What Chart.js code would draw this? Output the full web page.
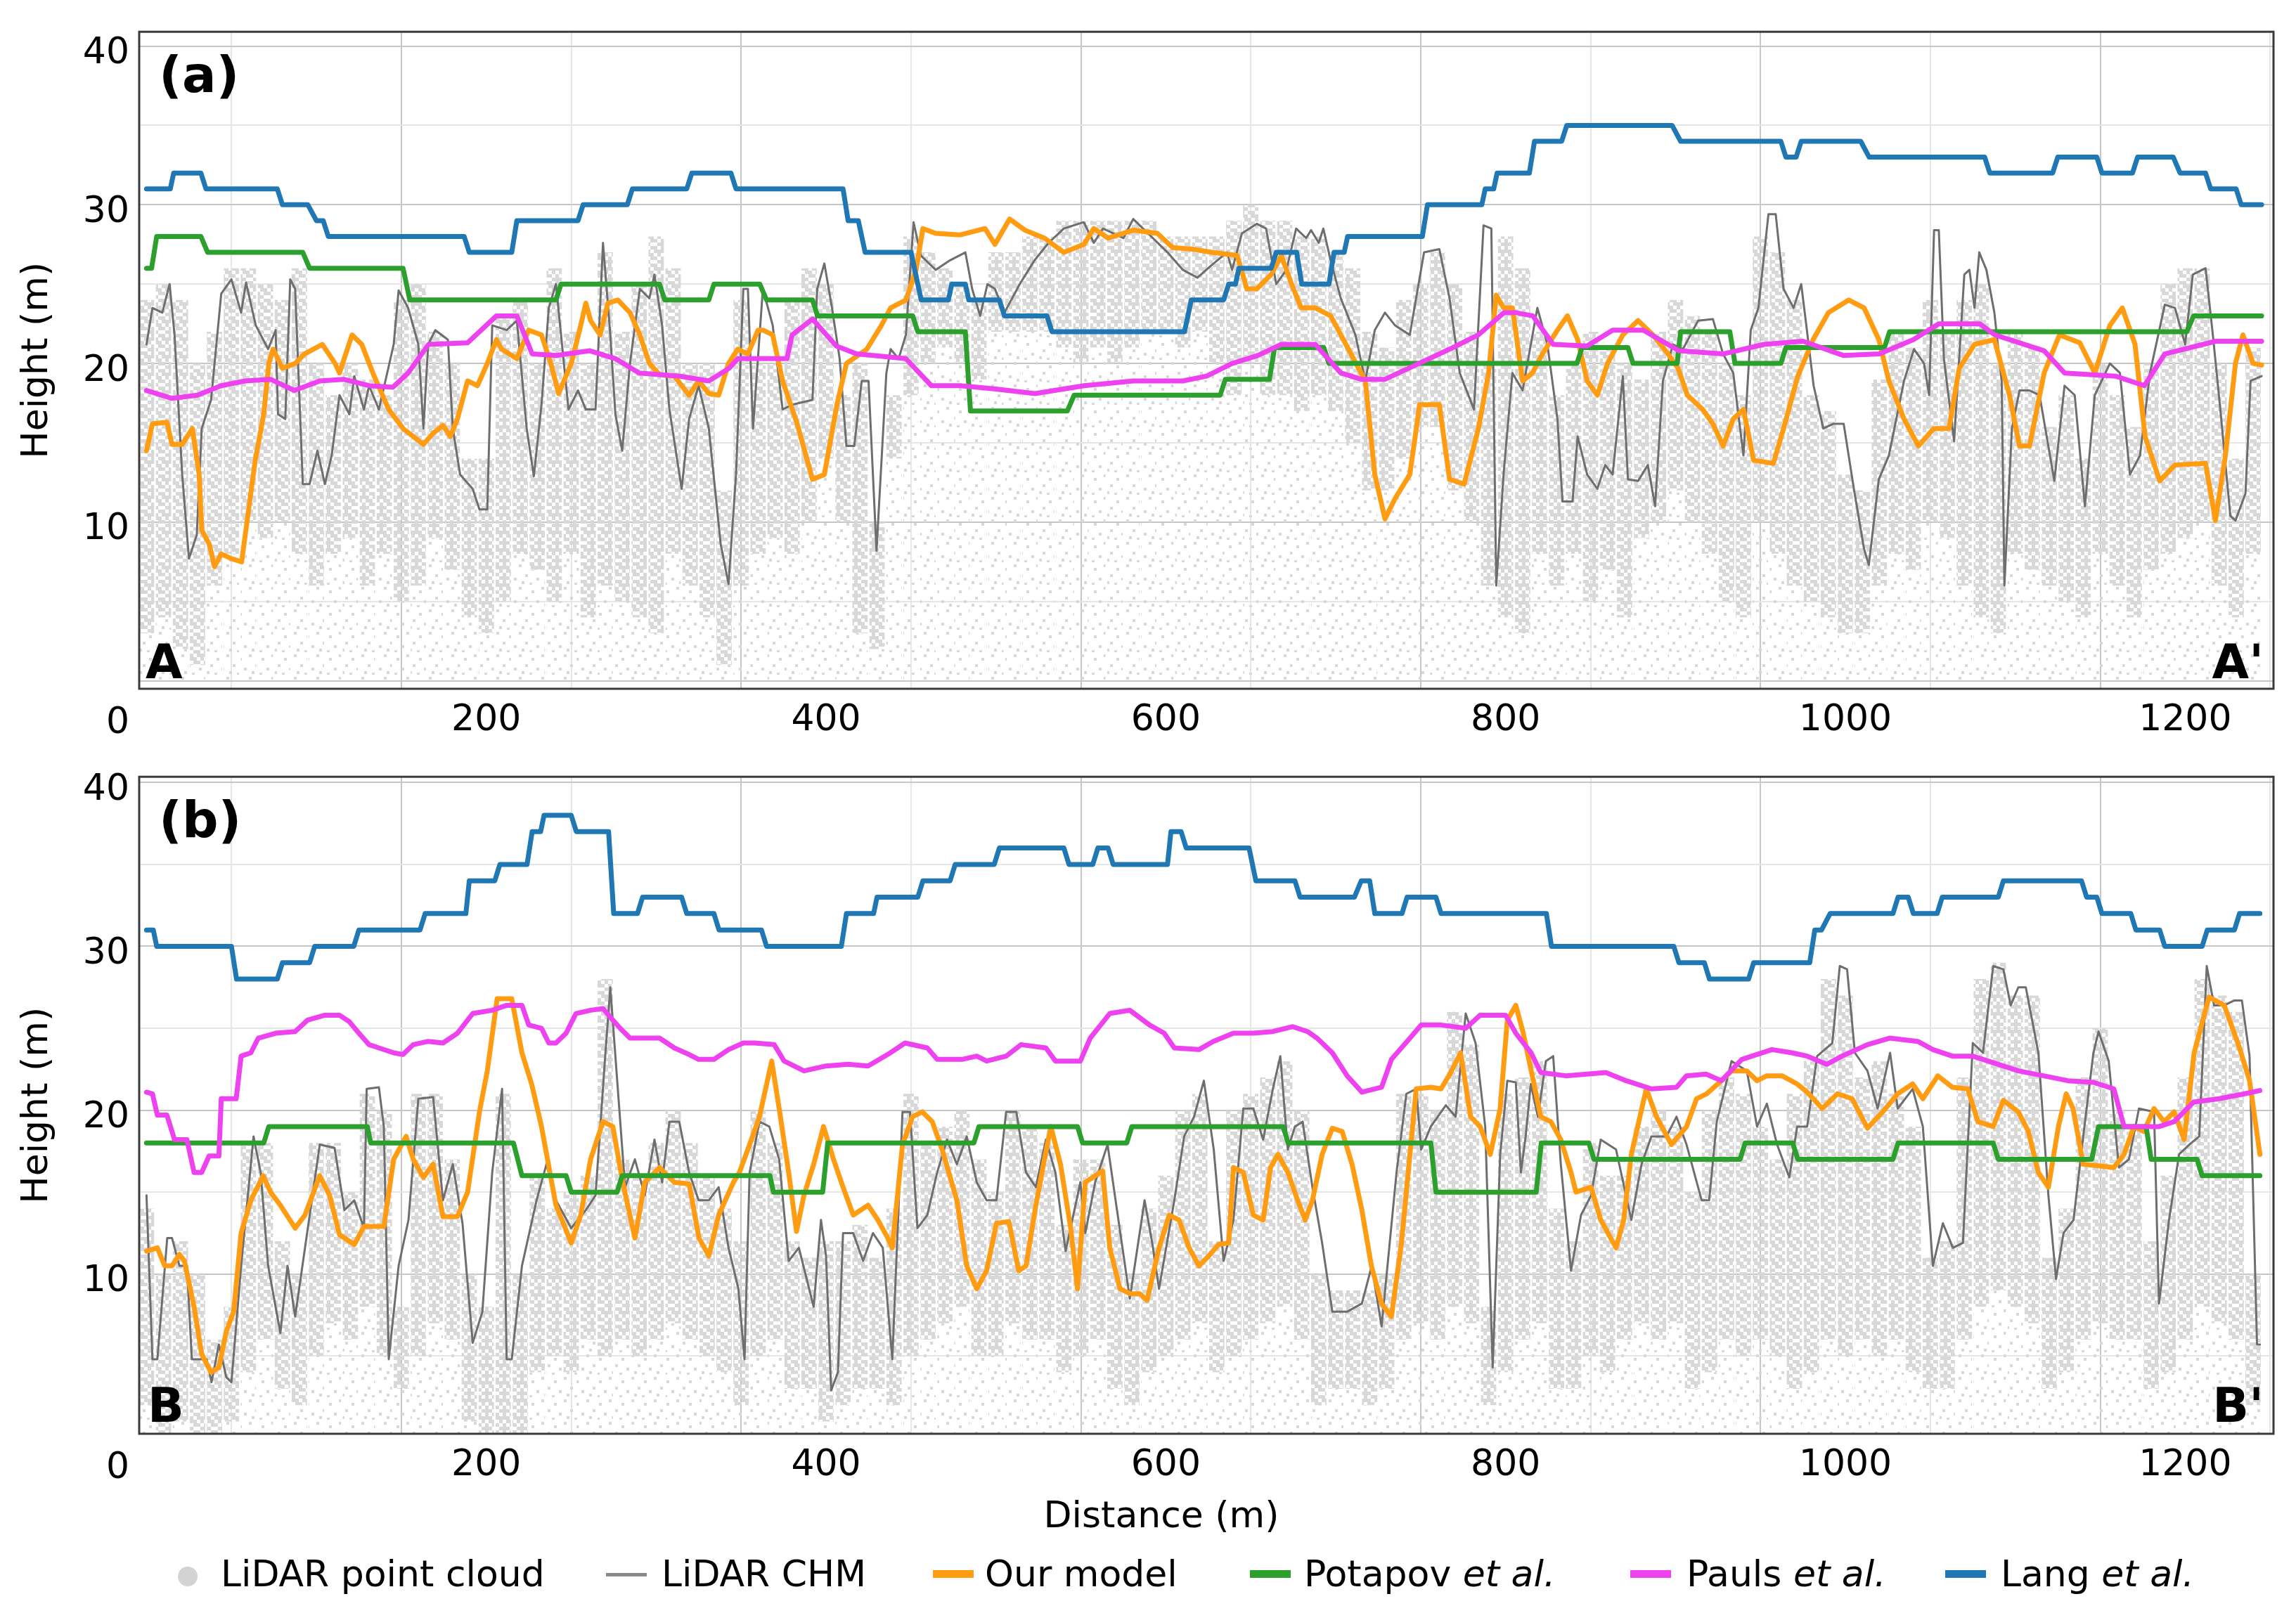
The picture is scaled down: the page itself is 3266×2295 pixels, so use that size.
<!DOCTYPE html>
<html>
<head>
<meta charset="utf-8">
<script src="https://cdn.jsdelivr.net/npm/chart.js@4.4.1/dist/chart.umd.min.js"></script>
<style>
  html, body { margin: 0; padding: 0; background: #fff; }
  #page { position: relative; width: 3266px; height: 2295px; font-family: 'DejaVu Sans', sans-serif; color: #000; overflow: hidden; }
  canvas { position: absolute; left: 0; }
  .lbl { position: absolute; white-space: nowrap; line-height: 1; font-size: 52px; z-index: 2; }
  .tag { position: absolute; white-space: nowrap; line-height: 1; font-weight: bold; z-index: 2; }
  .sw { position: absolute; z-index: 2; }
</style>
</head>
<body>
<div id="page">
  <canvas id="chartA" width="3266" height="1070" style="top:0px"></canvas>
  <canvas id="chartB" width="3266" height="1070" style="top:1060px"></canvas>

  <div class="tag" style="left:226px;top:70px;font-size:72px">(a)</div>
  <div class="tag" style="left:207px;top:908px;font-size:68px">A</div>
  <div class="tag" style="right:46px;top:908px;font-size:68px">A'</div>
  <div class="tag" style="left:226px;top:1130px;font-size:72px">(b)</div>
  <div class="tag" style="left:210px;top:1966px;font-size:68px">B</div>
  <div class="tag" style="right:46px;top:1966px;font-size:68px">B'</div>

  <div class="lbl" style="right:3082px;top:999px">0</div>
  <div class="lbl" style="right:3082px;top:2059px">0</div>
  <div class="lbl" style="left:1652px;top:2129px;transform:translateX(-50%)">Distance (m)</div>

  <div class="sw" style="left:253px;top:2229px;width:28px;height:28px;border-radius:50%;background:#d3d3d3"></div>
  <div class="lbl" style="left:314px;top:2213px">LiDAR point cloud</div>
  <div class="sw" style="left:862px;top:2238px;width:58px;height:5px;background:#8a8a8a"></div>
  <div class="lbl" style="left:941px;top:2213px">LiDAR CHM</div>
  <div class="sw" style="left:1327px;top:2234px;width:58px;height:11px;background:#ff9c12"></div>
  <div class="lbl" style="left:1401px;top:2213px">Our model</div>
  <div class="sw" style="left:1778px;top:2234px;width:58px;height:11px;background:#2ca02c"></div>
  <div class="lbl" style="left:1855px;top:2213px">Potapov <i>et al.</i></div>
  <div class="sw" style="left:2319px;top:2234px;width:58px;height:11px;background:#ee42f0"></div>
  <div class="lbl" style="left:2399px;top:2213px">Pauls <i>et al.</i></div>
  <div class="sw" style="left:2767px;top:2234px;width:58px;height:11px;background:#1f77b4"></div>
  <div class="lbl" style="left:2846px;top:2213px">Lang <i>et al.</i></div>
</div>

<script>
// ---- Panel (a): distance (m), height (m) ----
const langA = [[0,31],[14,31],[16,32],[32,32],[35,31],[77,31],[80,30],[95,30],[100,29],[104,29],[107,28],[187,28],[190,27],[215,27],[218,29],[254,29],[257,30],[283,30],[286,31],[318,31],[321,32],[344,32],[347,31],[410,31],[413,29],[419,29],[423,27],[450,27],[456,24],[472,24],[474,25],[482,25],[484,24],[502,24],[505,23],[530,23],[533,22],[611,22],[615,24],[634,24],[637,25],[641,25],[643,26],[662,26],[665,27],[677,27],[680,25],[696,25],[699,27],[705,27],[707,28],[751,28],[754,30],[786,30],[788,31],[793,31],[795,32],[814,32],[817,34],[833,34],[836,35],[898,35],[903,34],[962,34],[965,33],[971,33],[974,34],[1009,34],[1014,33],[1082,33],[1085,32],[1122,32],[1125,33],[1148,33],[1151,32],[1169,32],[1172,33],[1193,33],[1197,32],[1212,32],[1215,31],[1230,31],[1233,30],[1245,30]];

const potapovA = [[0,26],[3,26],[6,28],[32,28],[36,27],[92,27],[96,26],[151,26],[155,24],[241,24],[244,25],[302,25],[305,24],[331,24],[334,25],[361,25],[365,24],[392,24],[395,23],[451,23],[454,22],[482,22],[485,17],[542,17],[546,18],[632,18],[635,19],[661,19],[664,21],[693,21],[696,20],[842,20],[845,21],[872,21],[875,20],[901,20],[903,22],[932,22],[935,20],[962,20],[965,21],[1023,21],[1026,22],[1201,22],[1205,23],[1245,23]];

const paulsA = [[0,18.3],[15,17.8],[30,18.0],[44,18.6],[58,18.9],[73,19.0],[87,18.3],[102,18.9],[116,19.0],[131,18.6],[145,18.5],[154,19.4],[166,21.2],[189,21.3],[200,22.4],[206,23.0],[218,23.0],[227,20.6],[241,20.5],[261,20.8],[276,20.3],[290,19.4],[314,19.2],[331,18.9],[343,19.7],[348,20.3],[377,20.3],[380,21.8],[392,22.8],[406,21.1],[418,20.6],[447,20.3],[462,18.6],[479,18.6],[499,18.4],[523,18.1],[552,18.6],[581,18.9],[610,18.9],[624,19.2],[639,20.0],[654,20.5],[668,21.2],[688,21.2],[703,19.4],[715,19.0],[729,19.0],[749,20.0],[767,20.9],[784,21.8],[799,23.2],[806,23.2],[816,23.0],[828,21.2],[848,21.1],[863,22.1],[881,22.1],[902,20.8],[928,20.6],[952,21.2],[975,21.4],[999,20.5],[1020,20.6],[1040,21.5],[1055,22.5],[1079,22.5],[1088,21.8],[1117,20.8],[1129,19.4],[1159,19.2],[1176,18.6],[1188,20.6],[1218,21.4],[1245,21.4]];

const modelA = [[0,14.5],[3.5,16.2],[12,16.3],[15,14.9],[21,14.9],[27,15.9],[31,13.0],[32.5,9.5],[37,8.6],[40,7.2],[44,8.0],[50,7.7],[56,7.5],[60,10.7],[64,13.9],[69,16.8],[72,20.0],[74.5,20.9],[80,19.7],[87.5,20.0],[93,20.6],[103.5,21.2],[111,20.0],[113.6,19.4],[121,21.8],[126.7,21.2],[134,19.2],[142.6,17.1],[151,15.9],[163,14.9],[168.7,15.6],[174.5,16.1],[178.8,15.4],[183,16.5],[189,18.9],[194.8,18.6],[200.6,20.0],[206,21.5],[209,20.9],[218,20.3],[225,22.1],[232.5,21.8],[238,20.0],[242.6,18.1],[250,20.0],[255.6,22.4],[258.6,23.8],[261.4,22.7],[267,21.8],[271.6,23.8],[277.4,24.0],[284.6,23.2],[290.4,21.8],[296,20.0],[302,19.3],[310.7,19.2],[319.4,18.0],[325,18.9],[331,18.1],[336.8,18.0],[342.6,20.0],[348,20.9],[354,20.6],[360,22.1],[362.8,22.1],[368.6,21.8],[374.4,18.9],[383,16.2],[392,12.7],[399,13.0],[406.4,17.4],[412,20.0],[424,20.9],[432.6,22.4],[438,23.5],[447,24.0],[453,25.9],[457,28.5],[464.5,28.2],[479,28.1],[493.6,28.5],[499.4,27.5],[508,29.1],[517,28.4],[528.5,27.9],[540,27.0],[551.7,27.5],[557.6,28.5],[566,27.9],[581,28.4],[595,28.2],[604,27.3],[615.7,27.2],[627,27.0],[642,26.8],[647.7,24.7],[653.5,24.7],[662,25.6],[668,26.8],[674,25.0],[679.7,23.5],[688,23.5],[697,23.0],[706,21.2],[717.4,18.9],[723,13.0],[729,10.2],[735,11.5],[743.6,13.0],[749.4,17.4],[761,17.4],[767,12.7],[775.6,12.4],[784,15.9],[790,19.4],[794.5,24.3],[798.8,23.5],[804,23.5],[810,18.9],[815.8,19.4],[821.7,20.6],[830.5,22.1],[836.4,23.0],[842.4,21.5],[848,18.9],[854,18.0],[860,20.0],[869,21.8],[878,22.7],[886.7,21.8],[895.6,20.6],[901.5,19.7],[907,18.0],[916,17.1],[922,16.2],[928,14.8],[934,16.5],[940,17.1],[946,13.9],[957.6,13.7],[963.6,15.9],[972,19.2],[981,21.5],[990,23.2],[1002,24.0],[1011,23.5],[1019.7,21.5],[1025.6,18.9],[1034.5,16.5],[1043,14.8],[1052,15.9],[1061,15.9],[1067,19.7],[1076,21.2],[1087.7,21.5],[1096.6,18.0],[1102.5,14.8],[1108.4,14.8],[1117,19.4],[1126,21.8],[1138,21.3],[1146.8,19.4],[1155.7,22.4],[1163,23.5],[1170.5,21.2],[1176.4,15.4],[1185,12.6],[1194,13.6],[1212,13.7],[1217.8,10.1],[1223.7,14.2],[1229.6,20.0],[1234,21.8],[1240,20.0],[1245,19.9]];

const chmA = [[0,21.2],[3.5,23.5],[9.3,23.2],[13.6,25.0],[16.5,21.8],[21,13.0],[25,7.7],[29.6,9.2],[32.5,15.9],[38,17.7],[44,24.4],[50,25.3],[55.7,23.2],[58.6,25.1],[64.3,22.4],[71.6,20.9],[76,22.1],[77.4,16.8],[81.7,16.5],[84.6,25.3],[87.5,24.7],[92,12.4],[96,12.4],[100.6,14.5],[105,12.4],[109,14.2],[113.6,18.0],[119.4,16.8],[122.3,19.2],[128,17.1],[131,18.6],[136.8,17.1],[145.5,21.2],[148.4,24.6],[154,23.5],[160,21.2],[163,15.9],[165.8,21.2],[170,22.1],[177.4,21.5],[180.3,15.9],[184.6,13.0],[192,12.1],[196,10.8],[200.6,10.8],[203.5,22.4],[212,22.1],[218,22.7],[223.8,15.9],[228,12.9],[232.5,17.4],[236.8,23.5],[241,25.0],[244,21.8],[248.4,17.1],[254,18.3],[258.6,17.1],[264.3,17.1],[268.7,27.6],[273,21.8],[276,16.8],[280,14.5],[284.6,20.0],[290.4,24.7],[296,24.1],[299,25.6],[303.5,22.4],[307.8,17.1],[315,12.1],[319.4,16.5],[325,18.6],[331,15.9],[338,8.6],[342.6,6.1],[347,13.0],[351.3,24.7],[354,24.7],[357,15.9],[362.8,24.7],[368.6,22.4],[374.4,17.1],[380,17.4],[392,17.7],[394.8,24.7],[399,26.3],[403.5,23.5],[408,20.3],[412,14.8],[416.6,14.8],[421,18.9],[425,18.9],[429.7,8.2],[435.5,19.4],[438,20.9],[442.7,20.3],[447,21.8],[451.5,28.9],[455.8,26.8],[464.5,25.9],[473,26.5],[482,27.0],[486,24.7],[490.7,23.0],[495,25.0],[499.4,24.7],[505,23.2],[514,25.0],[522.7,26.5],[531,27.6],[540,28.5],[551.7,28.9],[557.6,27.6],[563,28.5],[575,27.9],[580.8,29.1],[589.5,28.2],[601,27.0],[610,25.9],[618.6,25.4],[627,26.2],[636,27.0],[639,25.9],[644.8,28.2],[653.5,28.8],[659,28.5],[665,25.0],[671,25.9],[676.7,28.5],[682.6,27.9],[685.5,28.4],[690,27.6],[692.7,28.5],[697,26.5],[703,24.1],[711.6,21.8],[717.4,18.9],[723,22.1],[729,23.2],[734.9,22.4],[743.6,21.8],[752,27.0],[761,27.2],[767,24.1],[773,19.4],[781.4,17.1],[787,28.7],[791.6,28.5],[794.5,6.0],[798.8,13.0],[804,19.4],[810,18.3],[818.7,23.5],[824.6,21.2],[830.5,16.5],[833.5,11.3],[839.4,11.3],[842.4,15.4],[848,13.0],[854,12.1],[858.6,13.6],[863,13.0],[869,19.2],[872,12.7],[878,12.6],[883.7,13.6],[888,11.0],[892.6,18.9],[898.5,21.2],[904.4,20.9],[913.3,22.7],[922,22.8],[928,20.6],[934,19.4],[940,14.2],[944.3,22.1],[948.8,23.5],[954.7,29.4],[959,29.4],[963.6,24.7],[969.5,23.5],[974,25.0],[977,22.4],[981.3,18.6],[987,15.9],[993,16.2],[999,16.2],[1005,12.1],[1011,8.3],[1013.8,7.3],[1019.7,12.7],[1025.6,14.2],[1034.5,18.9],[1040.4,20.9],[1046.3,20.0],[1049.3,18.0],[1052.2,28.4],[1055,28.4],[1058,20.3],[1064,15.1],[1070,25.6],[1073,25.9],[1076,23.5],[1078.8,27.0],[1083,25.9],[1087.7,23.2],[1092,18.9],[1093.6,6.0],[1098,15.9],[1102.5,18.3],[1108.4,18.3],[1114.3,18.0],[1123,12.6],[1129,18.6],[1135,18.0],[1141,11.0],[1146.8,18.0],[1155.7,20.0],[1161.6,19.4],[1167.5,13.0],[1173.4,14.2],[1179.3,19.4],[1188,23.7],[1194,23.5],[1200,21.2],[1204.5,25.6],[1212,26.0],[1216.3,21.8],[1220.7,17.1],[1226.6,10.4],[1229.6,10.1],[1235.5,11.8],[1238.5,18.9],[1245,19.2]];

// point cloud columns: [distance, lower edge of dense band, top]
const cloudA = [[0,3,24],[10,4,25],[20,2,24],[30,1,20],[40,6,22],[50,8,26],[60,10,26],[70,9,25],[80,10,24],[90,8,26],[100,6,20],[110,8,18],[120,9,20],[130,6,19],[140,8,18],[150,5,24],[160,6,25],[170,9,22],[180,7,20],[190,4,14],[200,3,14],[210,5,23],[220,8,24],[230,7,20],[240,5,26],[250,8,22],[260,4,20],[270,6,27],[280,5,22],[290,4,25],[300,3,28],[310,8,26],[320,6,20],[330,4,20],[340,1,12],[350,6,24],[360,8,20],[370,9,20],[380,8,24],[390,10,26],[400,14,25],[410,10,18],[420,3,20],[430,2,10],[440,14,18],[450,18,28],[460,20,27],[470,21,26],[480,20,25],[490,19,24],[500,22,27],[510,22,27],[520,22,28],[530,22,28],[540,21,29],[550,20,29],[560,21,29],[570,20,29],[580,21,29],[590,22,29],[600,22,28],[610,21,28],[620,22,28],[630,20,28],[640,18,29],[650,20,30],[660,18,29],[670,18,29],[680,17,28],[690,18,28],[700,17,27],[710,15,26],[720,12,22],[730,12,21],[740,14,24],[750,16,25],[760,16,27],[770,12,25],[780,10,22],[790,6,20],[800,4,28],[810,3,26],[820,8,22],[830,6,18],[840,8,20],[850,5,22],[860,7,21],[870,4,20],[880,9,19],[890,10,22],[900,12,24],[910,10,23],[920,8,22],[930,5,20],[940,4,18],[950,10,28],[960,8,27],[970,6,24],[980,5,18],[990,4,17],[1000,3,13],[1010,3,12],[1020,6,19],[1030,8,22],[1040,7,21],[1050,10,24],[1060,9,22],[1070,6,24],[1080,4,25],[1090,3,20],[1100,8,22],[1110,7,21],[1120,6,16],[1130,5,18],[1140,4,14],[1150,8,20],[1160,6,18],[1170,4,16],[1180,7,20],[1190,8,25],[1200,9,26],[1210,10,26],[1220,6,20],[1230,4,14],[1240,8,21]];

// ---- Panel (b) ----
const langB = [[0,31],[4,31],[6,30],[50,30],[53,28],[77,28],[80,29],[96,29],[99,30],[122,30],[125,31],[161,31],[164,32],[188,32],[190,34],[205,34],[208,35],[224,35],[227,37],[232,37],[234,38],[250,38],[253,37],[272,37],[275,32],[289,32],[292,33],[315,33],[318,32],[334,32],[337,31],[362,31],[365,30],[409,30],[412,32],[428,32],[430,33],[454,33],[457,34],[473,34],[476,35],[499,35],[502,36],[540,36],[543,35],[557,35],[560,36],[566,36],[569,35],[601,35],[603,37],[609,37],[612,36],[649,36],[653,34],[676,34],[679,33],[711,33],[715,34],[720,34],[723,32],[739,32],[742,33],[759,33],[762,32],[824,32],[827,30],[899,30],[902,29],[917,29],[920,28],[943,28],[946,29],[979,29],[982,31],[986,31],[991,32],[1028,32],[1031,33],[1037,33],[1040,32],[1054,32],[1057,33],[1090,33],[1093,34],[1139,34],[1142,33],[1148,33],[1151,32],[1168,32],[1171,31],[1185,31],[1188,30],[1210,30],[1213,31],[1229,31],[1232,32],[1244,32]];

const potapovB = [[0,18],[69,18],[72,19],[130,19],[132,18],[216,18],[221,16],[247,16],[250,15],[277,15],[280,16],[367,16],[369,15],[398,15],[401,18],[487,18],[490,19],[548,19],[551,18],[577,18],[580,19],[669,19],[672,18],[756,18],[759,15],[818,15],[821,18],[849,18],[852,17],[938,17],[941,18],[969,18],[972,17],[1028,17],[1031,18],[1087,18],[1090,17],[1145,17],[1149,19],[1177,19],[1180,17],[1207,17],[1210,16],[1244,16]];

const paulsB = [[0,21.1],[3.5,21.0],[6.4,19.7],[12,19.7],[16.5,18.2],[23.8,18.2],[28,16.2],[32.5,16.2],[36.8,17.2],[42.6,17.2],[44,20.7],[52.8,20.7],[55.7,23.3],[61.4,23.5],[65.8,24.4],[76,24.7],[87.5,24.8],[94.8,25.5],[105,25.8],[113.6,25.8],[119.4,25.4],[125,24.7],[131,24.0],[136.8,23.8],[145.5,23.5],[151,23.4],[157,24.0],[165.8,24.2],[174.5,24.1],[183,24.7],[192,25.9],[203.5,26.1],[212,26.4],[221,26.4],[225,25.2],[232.5,25.0],[236.8,24.1],[241,24.1],[247,24.7],[252.8,25.9],[261.4,26.1],[268.7,26.2],[274.5,25.5],[278.8,25.0],[284.6,24.4],[302,24.4],[310.7,23.8],[319.4,23.4],[325,23.1],[334,23.1],[342.6,23.7],[351.3,24.1],[358,24.1],[369.5,24.0],[375.3,23.0],[387,22.4],[400,22.7],[413,22.8],[424.7,22.7],[436.3,23.4],[446.5,24.1],[459.6,23.8],[465.4,23.1],[480,23.1],[488.7,23.3],[494.5,23.0],[506,23.3],[514.8,24.0],[529.4,23.8],[535,23.0],[549.7,23.0],[555.5,24.4],[567,25.9],[578.8,26.1],[590.4,25.2],[599,24.7],[605,23.8],[619.5,23.7],[628,24.2],[639.8,24.7],[651.5,24.7],[663,24.8],[674.7,25.1],[683.4,24.8],[689,24.4],[698,23.5],[706.7,22.1],[715.4,21.1],[727,21.4],[732.8,23.1],[744.5,24.5],[750.3,25.2],[762,25.2],[776.5,25.0],[785,25.8],[800,25.8],[806,24.7],[815,23.5],[820.7,22.3],[835.5,22.1],[859,22.3],[871,21.8],[885.8,21.3],[900.6,21.4],[906.5,22.1],[918,22.2],[927,21.8],[939,23.1],[956.8,23.7],[968.6,23.5],[977.5,23.3],[989,22.8],[998,23.3],[1013,24.0],[1026,24.4],[1042.6,24.2],[1051.5,23.7],[1063,23.3],[1075,23.3],[1090,22.8],[1101.8,22.4],[1116.6,22.1],[1131,21.8],[1146,21.7],[1158,21.3],[1164,19.0],[1184.6,19.0],[1193.5,19.3],[1205,20.5],[1220,20.7],[1235,21.0],[1244,21.2]];

const modelB = [[0,11.4],[6.4,11.6],[10.7,10.5],[15,10.5],[19.4,11.2],[22.3,10.8],[28,8.0],[32.5,5.1],[38,4.0],[42.6,4.3],[47,6.5],[51.3,7.7],[55.7,12.5],[61.4,14.5],[68.7,16.0],[73,15.0],[78.8,14.2],[87.5,12.8],[93.3,13.6],[102,16.0],[107.8,14.8],[113.6,12.4],[122.3,11.8],[128,12.9],[139.7,12.9],[145.5,17.0],[152.8,18.4],[157,17.0],[163,15.9],[168.7,16.7],[174.5,13.5],[183,13.5],[189,15.0],[196,19.9],[200.6,22.4],[206.4,26.8],[215,26.8],[221,23.5],[226.7,21.6],[232.5,19.0],[241,14.2],[250,11.9],[255.6,13.6],[261.4,17.0],[268.7,19.3],[274.5,19.0],[280.3,15.6],[287.5,12.2],[293.3,15.6],[302,16.5],[310.7,15.6],[319.4,15.5],[325.2,12.2],[331,11.1],[336.8,13.6],[345.5,15.6],[349,16.2],[355,17.9],[360.8,19.6],[368,23.0],[372.4,20.1],[378,16.2],[382.6,12.6],[387,14.8],[392.7,16.7],[398.5,19.0],[404.4,17.0],[410,15.3],[416,13.6],[424.7,14.2],[430.5,13.3],[436.3,12.2],[439,11.6],[445,17.9],[450.9,19.6],[456.7,19.9],[462.5,19.3],[468.3,17.6],[477,14.5],[482.8,10.5],[488.7,9.1],[494.5,10.2],[500.3,13.1],[507.6,13.2],[513.4,10.2],[517.7,10.5],[523.5,14.2],[528,16.7],[532.3,19.0],[538,16.7],[544,12.8],[548,9.1],[552.6,15.6],[557,15.9],[562.8,16.3],[567,11.6],[573,9.1],[578.8,8.8],[584.6,8.8],[589,8.4],[596,11.6],[602,13.6],[607.8,13.3],[613.7,11.6],[619.5,10.5],[625.3,11.1],[631,11.8],[637,11.9],[639.8,16.5],[645.6,16.2],[651.5,13.6],[657.3,13.3],[661.6,16.5],[666,17.3],[671.8,16.2],[677.6,14.5],[682,13.3],[686.3,14.5],[692,17.3],[698,18.9],[703.8,18.7],[709.6,16.7],[715.4,13.9],[721,10.5],[727,8.2],[732.8,7.4],[738.7,11.9],[744.5,18.2],[747.4,21.3],[756,21.4],[762,21.3],[767.7,22.3],[773.5,23.5],[779.4,19.6],[785,19.0],[791,17.3],[796.8,20.1],[801,25.5],[806,26.4],[810.4,24.7],[816.3,21.8],[820.7,19.6],[826.6,19.3],[832.5,18.2],[838.5,16.2],[841.4,15.0],[850.3,15.3],[856,13.3],[865,11.6],[869.5,13.3],[874,17.3],[882.8,21.3],[888.8,19.6],[897.6,17.9],[906.5,19.0],[912.4,20.7],[918.3,21.0],[927,21.8],[933,22.4],[942,22.4],[948,21.8],[953.8,22.1],[962.7,22.1],[971.6,21.6],[977.5,21.1],[986.4,20.1],[995.3,21.0],[1004,20.7],[1013,18.9],[1022,19.9],[1030.8,21.0],[1039.6,21.6],[1045.6,20.7],[1054.4,22.1],[1063,21.4],[1072,21.3],[1078,19.3],[1087,19.0],[1093,20.6],[1101.8,19.9],[1107.7,18.7],[1113.6,16.2],[1119.5,15.3],[1125.4,19.0],[1130,21.0],[1134,20.1],[1140,16.7],[1149,16.6],[1158,16.5],[1164,17.3],[1169.8,19.0],[1175.7,18.7],[1181.7,20.1],[1187.6,19.3],[1193.5,19.9],[1199.4,18.2],[1205.3,23.5],[1214,26.9],[1223,26.4],[1232,23.8],[1237.9,21.8],[1244,17.3]];

const chmB = [[0,14.8],[3.5,4.8],[6.4,4.8],[12.2,12.2],[15,12.2],[19.4,10.5],[23.8,10.5],[26.7,4.8],[35.4,4.8],[38.3,3.4],[42.6,5.7],[47,3.7],[50,3.4],[55.7,10.5],[63,18.4],[67.2,16.2],[71.6,10.5],[78.8,6.4],[83,10.5],[87.5,7.4],[93.3,11.6],[102,17.9],[110.7,17.7],[116.5,13.9],[122.3,14.5],[128,12.8],[129.6,21.3],[136.8,21.4],[139.7,19.0],[142.6,4.8],[148.4,10.5],[154.2,13.3],[160,20.7],[168.7,20.8],[174.5,14.5],[180.3,16.7],[186,13.1],[192,5.8],[197.7,7.7],[203.5,16.2],[209.3,21.3],[212,4.8],[215,4.8],[221,10.5],[229.6,14.5],[235.4,16.7],[241,14.5],[250,12.8],[258.6,13.9],[264.3,14.8],[270,23.3],[273,27.5],[276,23.3],[281.7,15.3],[287.5,17.0],[293.3,14.8],[299,18.2],[303.5,15.6],[307.8,19.3],[313.6,19.3],[319.4,16.2],[325,14.5],[331,14.5],[336.8,15.3],[342.6,11.6],[348.4,9.1],[352,4.8],[355,16.2],[360.8,19.3],[366.6,19.0],[372.4,17.0],[378,10.8],[384,11.6],[392.7,8.0],[397,13.3],[400,11.1],[403,2.9],[407,4.0],[410,12.5],[416,12.5],[421.8,10.8],[427.6,12.5],[433.4,11.6],[439,4.8],[445,19.9],[449.4,19.9],[453.8,12.8],[459.6,13.6],[465.4,16.2],[471.2,18.2],[477,16.7],[482.8,18.4],[488.7,15.6],[494.5,14.5],[500.3,14.5],[506,19.9],[512,19.9],[517.7,16.2],[523.5,15.3],[529.4,18.2],[535,16.2],[541,11.4],[549.7,15.6],[552.6,12.5],[558.4,15.6],[565.7,17.9],[570,14.8],[578.8,8.5],[581.7,10.5],[587.5,14.5],[592,11.9],[596,9.1],[605,14.5],[610.8,18.4],[616.6,19.6],[622.4,21.8],[628.2,17.6],[634,10.8],[639.8,13.3],[645.6,20.1],[651.5,20.1],[657.3,18.2],[663,21.3],[667.4,23.3],[671.8,17.6],[676,19.0],[680.5,19.3],[686.3,15.3],[692,11.9],[698,7.7],[706.7,7.7],[715.4,8.2],[721.2,10.5],[727,6.8],[735.8,16.2],[741.6,21.0],[747.4,21.3],[750.3,17.6],[756,19.0],[764.8,20.3],[770.6,19.6],[776.5,25.9],[782.3,24.1],[788,19.0],[792.4,4.3],[796.8,17.3],[801,21.8],[806,21.7],[809,16.2],[811.8,18.4],[814.8,21.6],[819,19.6],[823.7,23.0],[828,23.3],[832.5,16.7],[838.5,10.2],[844.4,13.6],[850.3,14.8],[856,18.2],[865,17.6],[874,13.3],[880,16.7],[885.8,18.4],[894.7,18.4],[900.6,19.6],[906.5,17.9],[915.4,14.5],[919.8,14.5],[924.3,19.3],[933,23.0],[942,22.4],[948,19.0],[953.8,20.4],[959.8,17.9],[967,15.9],[971.6,19.0],[977.5,19.0],[983.4,23.3],[992.3,24.1],[996.7,28.8],[1001,28.6],[1005.6,23.5],[1013,22.4],[1019,20.1],[1026.3,23.5],[1030.8,20.1],[1039.6,21.3],[1045.6,19.0],[1051.5,10.5],[1057.4,13.1],[1063.3,11.6],[1069.2,11.9],[1075,24.1],[1081,23.5],[1087,28.8],[1093,28.6],[1097.3,26.4],[1101.8,27.5],[1106.2,27.5],[1113.6,23.5],[1119.5,14.8],[1124,9.7],[1128.4,12.5],[1134.3,13.3],[1140,18.4],[1146,23.5],[1149,24.8],[1155,23.0],[1161,16.5],[1166.9,17.0],[1172.8,20.1],[1181.7,19.9],[1184.6,8.2],[1190.5,13.3],[1196.4,17.3],[1202.4,17.9],[1208.3,18.4],[1212.7,28.8],[1217,26.4],[1223,26.4],[1229,26.7],[1233.4,26.7],[1237.9,23.3],[1242.3,5.7],[1244,5.7]];

const cloudB = [[0,2,14],[10,0,10],[20,1,12],[30,0,10],[40,0,6],[50,1,8],[60,4,18],[70,6,18],[80,3,12],[90,2,10],[100,5,18],[110,7,18],[120,6,15],[130,8,21],[140,5,20],[150,3,8],[160,5,21],[170,7,21],[180,6,17],[190,1,10],[200,0,8],[210,0,21],[220,0,10],[230,4,16],[240,5,14],[250,4,15],[260,6,16],[270,5,28],[280,6,17],[290,5,16],[300,6,18],[310,7,20],[320,6,18],[330,5,16],[340,4,14],[350,2,12],[360,5,20],[370,6,18],[380,3,12],[390,3,11],[400,1,12],[410,2,12],[420,3,13],[430,3,11],[440,2,14],[450,5,21],[460,6,18],[470,7,19],[480,8,20],[490,5,17],[500,5,15],[510,7,20],[520,6,19],[530,6,18],[540,4,13],[550,5,17],[560,6,17],[570,3,13],[580,2,10],[590,4,14],[600,5,16],[610,6,20],[620,7,21],[630,4,12],[640,5,20],[650,6,21],[660,7,22],[670,8,23],[680,6,20],[690,2,10],[700,3,9],[710,3,9],[720,2,9],[730,3,10],[740,6,21],[750,7,21],[760,6,20],[770,8,26],[780,7,24],[790,2,8],[800,4,21],[810,6,22],[820,7,23],[830,3,14],[840,3,12],[850,5,18],[860,4,16],[870,6,16],[880,7,19],[890,6,20],[900,7,19],[910,3,15],[920,4,20],[930,6,22],[940,5,21],[950,6,19],[960,5,17],[970,3,21],[980,4,23],[990,6,28],[1000,5,27],[1010,6,22],[1020,5,23],[1030,6,21],[1040,4,19],[1050,3,11],[1060,3,12],[1070,6,22],[1080,8,28],[1090,9,29],[1100,8,27],[1110,7,27],[1120,3,11],[1130,4,14],[1140,6,22],[1150,7,25],[1160,6,20],[1170,6,19],[1180,3,12],[1190,4,16],[1200,6,22],[1210,8,28],[1220,7,27],[1230,6,26],[1240,2,10]];

const xMin = -4.3, xMax = 1252;

const FONT = "'DejaVu Sans', sans-serif";
const BLUE = '#1f77b4', GREEN = '#2ca02c', ORANGE = '#ff9c12', MAGENTA = '#ee42f0', CHM = '#6e6e6e';
const GRID_MAJOR = '#c6c6c6', GRID_MINOR = '#e6e6e6';
const CLOUD = '#d8d8d8';

Chart.defaults.font.family = FONT;

// textures for the point cloud: mottled blotches and scattered specks
function speckle(size, sq, cells) {
  const c = document.createElement('canvas');
  c.width = size; c.height = size;
  const g = c.getContext('2d');
  g.fillStyle = CLOUD;
  cells.forEach(p => g.fillRect(p[0], p[1], sq, sq));
  return g.createPattern(c, 'repeat');
}
const densePat = speckle(25, 5, [[0,0],[5,0],[15,0],[5,5],[10,5],[15,5],[20,5],[0,10],[10,10],[20,10],[0,15],[5,15],[15,15],[10,20],[15,20],[20,20]]);
const sparsePat = speckle(32, 4, [[2,3],[20,8],[11,17],[27,22],[6,27],[17,29]]);

const pts = arr => arr.map(p => ({ x: p[0], y: p[1] }));

const framePlugin = {
  id: 'frame',
  afterDraw(chart) {
    const { ctx, chartArea: a } = chart;
    ctx.save();
    ctx.strokeStyle = '#3a3a3a';
    ctx.lineWidth = 3;
    ctx.strokeRect(a.left, a.top, a.right - a.left, a.bottom - a.top);
    ctx.restore();
  }
};

function lineSet(label, data, color, width, order) {
  return {
    type: 'line', label, data: pts(data), borderColor: color, borderWidth: width,
    pointRadius: 0, tension: 0, fill: false, order,
    borderJoinStyle: 'round', borderCapStyle: 'round'
  };
}

function cloudSet(label, data, pattern, order) {
  return {
    type: 'bar', label, data, backgroundColor: pattern, borderWidth: 0,
    grouped: false, barPercentage: 0.9, categoryPercentage: 1, order
  };
}

function panel(id, s, yMin, yMax) {
  new Chart(document.getElementById(id), {
    type: 'line',
    data: {
      datasets: [
        lineSet('Lang et al.', s.lang, BLUE, 7, 1),
        lineSet('Pauls et al.', s.pauls, MAGENTA, 7, 2),
        lineSet('Potapov et al.', s.potapov, GREEN, 7, 3),
        lineSet('Our model', s.model, ORANGE, 7, 4),
        lineSet('LiDAR CHM', s.chm, CHM, 3, 5),
        cloudSet('LiDAR point cloud', s.cloud.map(c => ({ x: c[0], y: [c[1], c[2]] })), densePat, 6),
        cloudSet('LiDAR point cloud (sparse)', s.cloud.map(c => ({ x: c[0], y: [0, c[1]] })), sparsePat, 7)
      ]
    },
    options: {
      responsive: false,
      animation: false,
      devicePixelRatio: 1,
      events: [],
      layout: { padding: { left: 0, right: 32, top: 31, bottom: 0 } },
      plugins: { legend: { display: false }, tooltip: { enabled: false } },
      scales: {
        x: {
          type: 'linear', min: xMin, max: xMax, offset: false,
          border: { display: false },
          grid: {
            drawTicks: false, lineWidth: 2,
            color: c => (c.tick && c.tick.value % 200 === 0) ? GRID_MAJOR : GRID_MINOR
          },
          ticks: {
            stepSize: 100, includeBounds: false, autoSkip: false, maxRotation: 0,
            padding: 14, color: '#000', font: { size: 52 },
            callback: v => (v > 0 && v % 200 === 0) ? String(v) : ''
          },
          afterFit: sc => { sc.height = 90; }
        },
        y: {
          min: yMin, max: yMax,
          border: { display: false },
          grid: {
            drawTicks: false, lineWidth: 2,
            color: c => (c.tick && c.tick.value % 10 === 0) ? GRID_MAJOR : GRID_MINOR
          },
          ticks: {
            stepSize: 5, includeBounds: false, padding: 14, labelOffset: 11,
            color: '#000', font: { size: 52 },
            callback: v => (v > 0 && v % 10 === 0) ? String(v) : ''
          },
          title: { display: true, text: 'Height (m)', color: '#000', font: { size: 52 }, padding: { top: 22, bottom: 0 } },
          afterFit: sc => { sc.width = 198; }
        }
      }
    },
    plugins: [framePlugin]
  });
}

panel('chartA', { lang: langA, potapov: potapovA, pauls: paulsA, model: modelA, chm: chmA, cloud: cloudA }, -0.5, 40.9);
panel('chartB', { lang: langB, potapov: potapovB, pauls: paulsB, model: modelB, chm: chmB, cloud: cloudB }, 0.25, 40.35);
</script>
</body>
</html>
